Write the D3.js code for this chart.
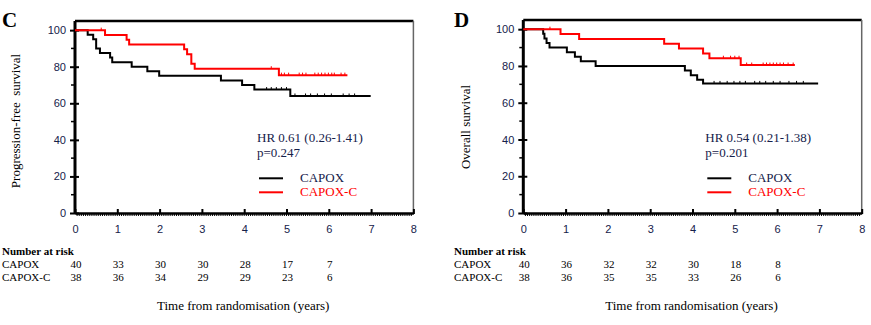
<!DOCTYPE html>
<html>
<head>
<meta charset="utf-8">
<script src="https://cdn.jsdelivr.net/npm/d3@7"></script>
<style>
  body { margin: 0; background: #fff; }
  svg { display: block; }
</style>
</head>
<body>
<script>
// Kaplan-Meier curves for CAPOX vs CAPOX-C, progression-free (C) and overall survival (D)

var years = [0, 1, 2, 3, 4, 5, 6, 7, 8];
var yTicks = [0, 20, 40, 60, 80, 100];
var yMinor = [10, 30, 50, 70, 90];
var riskYears = [0, 1, 2, 3, 4, 5, 6];
var groups = ['CAPOX', 'CAPOX-C'];

// step points: [years, survival %]
var pfsCapox = [[0, 100], [0.30, 97.5], [0.43, 95], [0.50, 90], [0.59, 87.5], [0.83, 85],
  [0.88, 82.5], [1.34, 80], [1.71, 77.5], [1.99, 75], [3.45, 72.5], [3.95, 70],
  [4.24, 67.5], [5.09, 64]];
var pfsCapoxEnd = 6.99;
var pfsCapoxCensor = [4.53, 4.64, 4.76, 4.88, 5.0, 5.2, 5.45, 5.57, 5.73, 5.9, 6.06, 6.34, 6.48, 6.61];

var pfsCapoxC = [[0, 100], [0.71, 97.4], [1.22, 94.7], [1.28, 92.1], [2.58, 89.5], [2.65, 86.8],
  [2.75, 81.6], [2.83, 78.9], [4.82, 75.4]];
var pfsCapoxCEnd = 6.44;
var pfsCapoxCCensor = [0.62, 4.64, 4.88, 4.95, 5.05, 5.3, 5.38, 5.46, 5.67, 5.75, 5.83, 5.91,
  5.99, 6.07, 6.13, 6.29, 6.38];

var osCapox = [[0, 100], [0.47, 97.5], [0.50, 95], [0.55, 92.5], [0.62, 90], [1.03, 87.5],
  [1.22, 85], [1.36, 82.5], [1.71, 80], [3.82, 77.5], [3.96, 75], [4.11, 72.5], [4.25, 70.5]];
var osCapoxEnd = 6.97;
var osCapoxCensor = [4.51, 4.65, 4.82, 4.98, 5.12, 5.25, 5.47, 5.59, 5.73, 5.91, 6.07, 6.28, 6.46, 6.62];

var osCapoxC = [[0, 100], [0.88, 97.4], [1.32, 94.7], [3.33, 92.1], [3.68, 89.5], [4.25, 86.8],
  [4.40, 84.2], [5.14, 80.5]];
var osCapoxCEnd = 6.42;
var osCapoxCCensor = [0.63, 4.73, 4.9, 5.0, 5.1, 5.28, 5.4, 5.67, 5.75, 5.83, 5.91, 5.99, 6.07,
  6.15, 6.26, 6.38];

// number at risk per year
var pfsRiskCapox = [40, 33, 30, 30, 28, 17, 7];
var pfsRiskCapoxC = [38, 36, 34, 29, 29, 23, 6];
var osRiskCapox = [40, 36, 32, 32, 30, 18, 8];
var osRiskCapoxC = [38, 36, 35, 35, 33, 26, 6];

var serif = '"Liberation Serif", "Times New Roman", serif';
var sans = '"Liberation Sans", Arial, sans-serif';
var ink = '#15214a';
var colors = ['#000000', '#ff0000'];

var svg = d3.select('body').append('svg')
  .attr('width', 871)
  .attr('height', 325);

drawPanel({
  letter: 'C', left: 75, top: 21, letterX: 2, tableX: 2, titleX: 20, titleY: 121,
  yTitle: 'Progression-free  survival',
  hr: 'HR 0.61 (0.26-1.41)', p: 'p=0.247',
  curves: [[pfsCapox, pfsCapoxEnd, pfsCapoxCensor], [pfsCapoxC, pfsCapoxCEnd, pfsCapoxCCensor]],
  risk: [pfsRiskCapox, pfsRiskCapoxC]
});

drawPanel({
  letter: 'D', left: 523.3, top: 20, letterX: 454, tableX: 454, titleX: 470, titleY: 127,
  yTitle: 'Overall survival',
  hr: 'HR 0.54 (0.21-1.38)', p: 'p=0.201',
  curves: [[osCapox, osCapoxEnd, osCapoxCensor], [osCapoxC, osCapoxCEnd, osCapoxCCensor]],
  risk: [osRiskCapox, osRiskCapoxC]
});

function drawPanel(p) {
  var x = d3.scaleLinear().domain([0, 8]).range([p.left, p.left + 338.4]);
  var y = d3.scaleLinear().domain([0, 105]).range([213, p.top]);
  var g = svg.append('g');

  // frame: heavy top, light right
  g.append('line')
    .attr('x1', x(0)).attr('x2', x(8)).attr('y1', y(105)).attr('y2', y(105))
    .attr('stroke', '#000').attr('stroke-width', 2.5);
  g.append('line')
    .attr('x1', x(8)).attr('x2', x(8)).attr('y1', y(105)).attr('y2', y(0))
    .attr('stroke', '#666').attr('stroke-width', 1.5);

  // minor ticks
  g.selectAll('.xminor')
    .data(d3.range(1, 160))
    .enter().append('line')
    .attr('x1', function (d) { return x(d * 0.05); })
    .attr('x2', function (d) { return x(d * 0.05); })
    .attr('y1', y(0)).attr('y2', y(0) + 3)
    .attr('stroke', '#000').attr('stroke-width', 1);
  g.selectAll('.yminor')
    .data(yMinor)
    .enter().append('line')
    .attr('x1', x(0) - 4).attr('x2', x(0))
    .attr('y1', function (d) { return y(d); })
    .attr('y2', function (d) { return y(d); })
    .attr('stroke', '#000').attr('stroke-width', 1.5);

  var xAxis = g.append('g')
    .attr('transform', 'translate(0,' + y(0) + ')')
    .call(d3.axisBottom(x).tickValues(years).tickSize(3).tickPadding(9).tickSizeOuter(0));
  xAxis.select('.domain').attr('stroke-width', 2.5);
  xAxis.selectAll('.tick line').attr('y1', -4).attr('y2', 1).attr('stroke-width', 2);
  xAxis.selectAll('.tick text')
    .attr('font-family', sans).attr('font-size', 11).attr('fill', ink);

  var yAxis = g.append('g')
    .attr('transform', 'translate(' + x(0) + ',0)')
    .call(d3.axisLeft(y).tickValues(yTicks).tickSize(5).tickPadding(4).tickSizeOuter(0));
  yAxis.select('.domain').attr('d', 'M0,' + y(0) + 'V' + y(105)).attr('stroke-width', 3);
  yAxis.selectAll('.tick line').attr('x1', 4).attr('stroke-width', 2);
  yAxis.selectAll('.tick text')
    .attr('font-family', sans).attr('font-size', 11).attr('fill', ink);

  // survival curves with censor marks
  var line = d3.line()
    .x(function (d) { return x(d[0]); })
    .y(function (d) { return y(d[1]); })
    .curve(d3.curveStepAfter);

  p.curves.forEach(function (c, i) {
    var steps = c[0];
    var pts = steps.concat([[c[1], steps[steps.length - 1][1]]]);
    g.append('path')
      .attr('d', line(pts))
      .attr('fill', 'none')
      .attr('stroke', colors[i])
      .attr('stroke-width', 2);

    var bis = d3.bisector(function (d) { return d[0]; }).right;
    g.selectAll('.censor' + i)
      .data(c[2])
      .enter().append('line')
      .attr('x1', function (t) { return x(t); })
      .attr('x2', function (t) { return x(t); })
      .attr('y1', function (t) { return y(steps[bis(steps, t) - 1][1]); })
      .attr('y2', function (t) { return y(steps[bis(steps, t) - 1][1]) - 2.5; })
      .attr('stroke', colors[i])
      .attr('stroke-width', 1);
  });

  // panel letter and y title
  svg.append('text')
    .attr('x', p.letterX).attr('y', 27)
    .attr('font-family', serif).attr('font-weight', 'bold').attr('font-size', 21)
    .attr('fill', '#000')
    .text(p.letter);

  svg.append('text')
    .attr('transform', 'translate(' + p.titleX + ',' + p.titleY + ') rotate(-90)')
    .attr('text-anchor', 'middle')
    .attr('font-family', serif).attr('font-size', 13)
    .attr('fill', '#000')
    .style('white-space', 'pre')
    .text(p.yTitle);

  // hazard ratio and legend
  g.append('text')
    .attr('x', p.left + 182).attr('y', 142)
    .attr('font-family', serif).attr('font-size', 13).attr('fill', ink)
    .text(p.hr);
  g.append('text')
    .attr('x', p.left + 182).attr('y', 157)
    .attr('font-family', serif).attr('font-size', 13).attr('fill', ink)
    .text(p.p);

  groups.forEach(function (name, i) {
    var ly = 178.3 + i * 14;
    g.append('line')
      .attr('x1', p.left + 184).attr('x2', p.left + 208)
      .attr('y1', ly).attr('y2', ly)
      .attr('stroke', colors[i]).attr('stroke-width', 2);
    g.append('text')
      .attr('x', p.left + 225).attr('y', ly + 3.7)
      .attr('font-family', serif).attr('font-size', 13)
      .attr('fill', i === 0 ? ink : '#ff0000')
      .text(name);
  });

  // number at risk table
  g.append('text')
    .attr('x', p.tableX).attr('y', 255)
    .attr('font-family', serif).attr('font-size', 11).attr('font-weight', 'bold')
    .attr('fill', '#000')
    .text('Number at risk');

  groups.forEach(function (name, i) {
    var ty = 268 + i * 13;
    g.append('text')
      .attr('x', p.tableX).attr('y', ty)
      .attr('font-family', serif).attr('font-size', 11).attr('fill', '#000')
      .text(name);
    g.selectAll('.risk' + i)
      .data(p.risk[i])
      .enter().append('text')
      .attr('x', function (d, j) { return x(riskYears[j]) + 1; })
      .attr('y', ty)
      .attr('text-anchor', 'middle')
      .attr('font-family', serif).attr('font-size', 11).attr('fill', '#000')
      .text(function (d) { return d; });
  });

  g.append('text')
    .attr('x', x(4) - 1).attr('y', 310)
    .attr('text-anchor', 'middle')
    .attr('font-family', serif).attr('font-size', 13).attr('fill', '#000')
    .text('Time from randomisation (years)');
}
</script>
</body>
</html>
